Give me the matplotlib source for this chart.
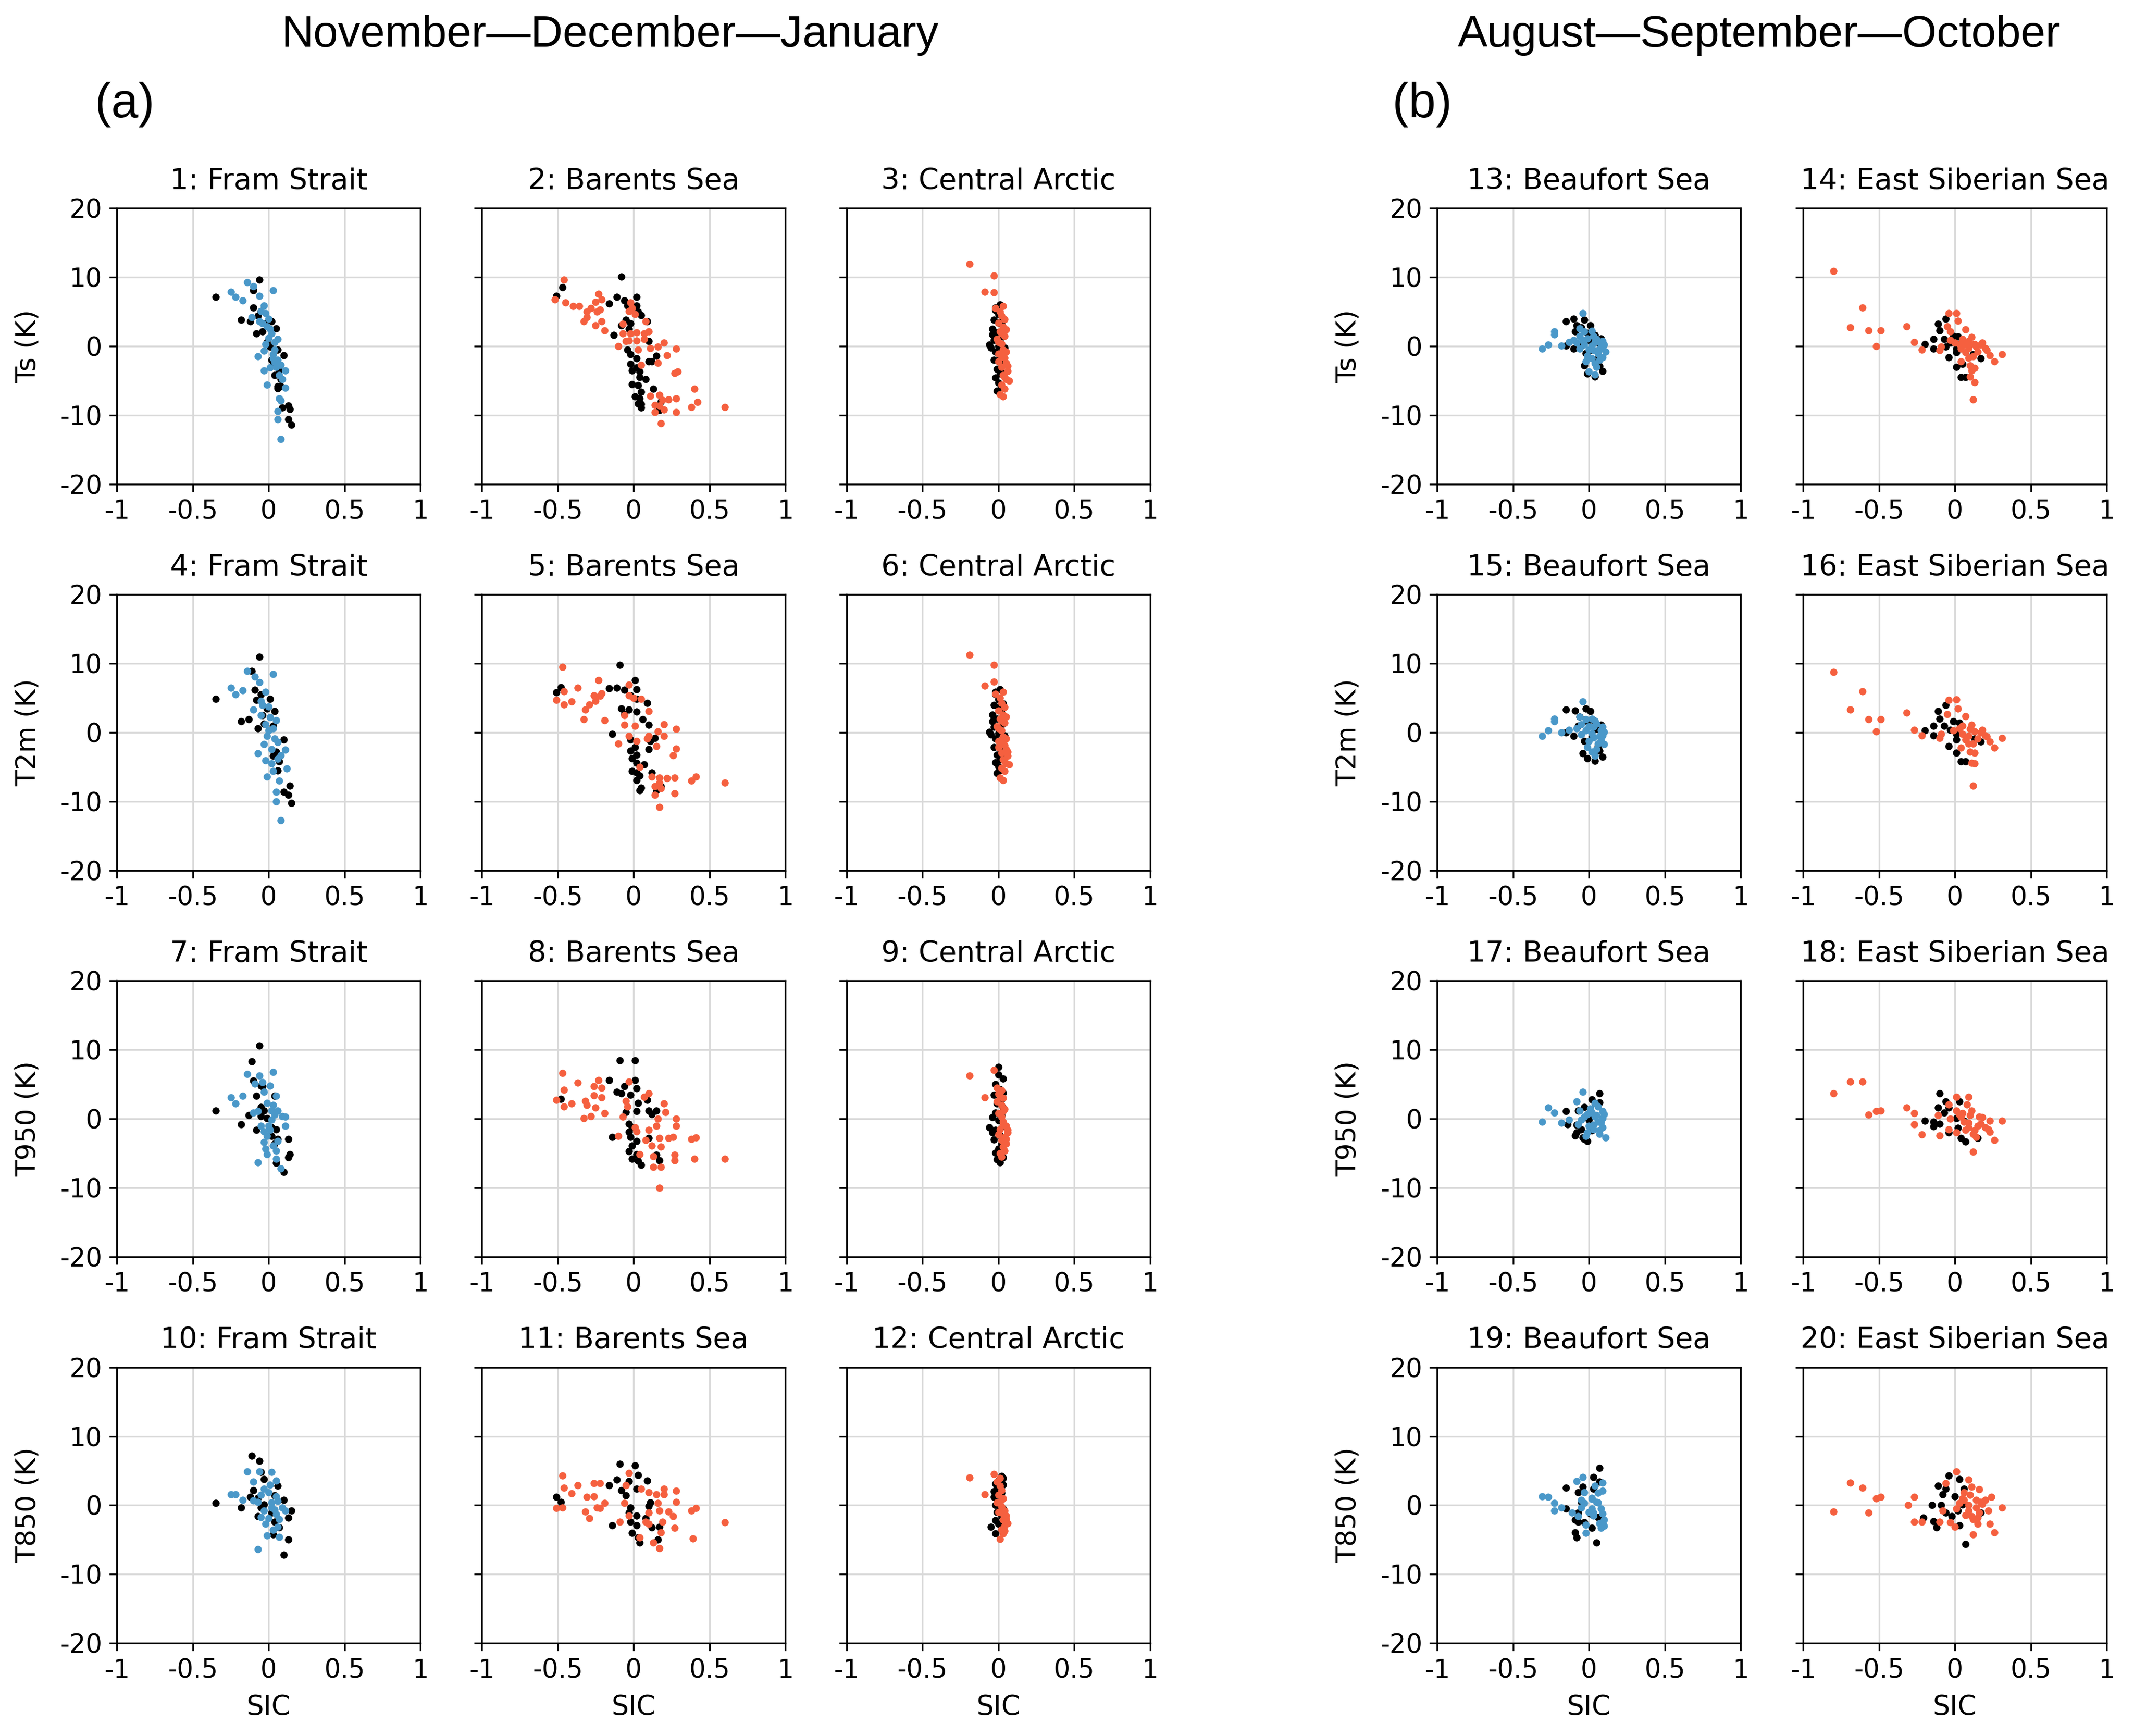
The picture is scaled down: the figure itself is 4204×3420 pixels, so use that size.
import matplotlib.pyplot as plt

plt.rcParams['font.family'] = ['DejaVu Sans']
plt.rcParams['axes.unicode_minus'] = False

# text
left_titles = ['Fram Strait', 'Barents Sea', 'Central Arctic']
right_titles = ['Beaufort Sea', 'East Siberian Sea']
ylabels = ['Ts (K)', 'T2m (K)', 'T950 (K)', 'T850 (K)']
xticks = [-1, -0.5, 0, 0.5, 1]
xtick_labels = ['-1', '-0.5', '0', '0.5', '1']
yticks = [20, 10, 0, -10, -20]
ytick_labels = ['20', '10', '0', '-10', '-20']

BLACK = 'black'
BLUE = '#4a98c9'
RED = '#f5603f'

# ---- (x = SIC anomaly, y = temperature anomaly) ----
# 1: Fram Strait, Ts
p01_black = [(-0.35, 7.1), (-0.06, 9.6), (-0.10, 8.1), (-0.18, 3.8), (-0.12, 3.6), (-0.10, 5.6),
             (-0.08, 1.8), (-0.04, 2.1), (-0.07, 4.4), (0.05, 2.6), (0.10, -1.3), (0.06, -5.8),
             (0.08, -4.8), (0.09, -8.9), (0.13, -8.6), (0.14, -9.1), (0.13, -10.6), (0.15, -11.4),
             (0.03, -2.7), (0.07, -3.5), (0.01, -0.1), (-0.01, 0.6), (0.02, -2.0), (0.04, -4.2),
             (-0.02, 3.3), (0.02, 3.6), (0.06, -6.1), (-0.05, 5.1), (0.06, -0.5), (0.08, -5.8)]
p01_blue = [(-0.14, 9.3), (-0.10, 8.7), (0.03, 8.1), (-0.25, 7.9), (-0.22, 7.1), (-0.17, 6.6),
            (-0.06, 7.3), (-0.03, 5.9), (-0.05, 5.1), (-0.11, 4.2), (-0.04, 3.3), (-0.01, 2.9),
            (0.0, 4.0), (0.02, 1.8), (-0.02, 0.3), (0.04, 0.6), (0.06, 1.0), (-0.07, -1.5),
            (-0.03, -0.7), (0.03, -1.2), (0.06, -2.0), (0.08, -2.7), (0.11, -3.5), (-0.03, -3.5),
            (0.01, -3.1), (0.07, -4.2), (-0.01, -5.6), (0.11, -6.0), (0.07, -7.6), (0.08, -7.9),
            (0.06, -9.4), (0.06, -10.6), (0.08, -13.5), (0.04, -0.5), (0.01, 2.5), (0.0, 1.2),
            (0.03, -1.8), (0.05, -3.0), (-0.02, 4.8), (0.09, -4.8), (0.04, -2.3), (-0.06, 3.6)]

# 2: Barents Sea, Ts
p02_black = [(-0.08, 10.1), (-0.47, 8.5), (-0.51, 7.3), (-0.16, 6.2), (-0.11, 7.1), (-0.06, 6.6),
             (0.02, 7.1), (-0.04, 5.9), (0.02, 5.9), (0.03, 5.0), (0.05, 4.5), (-0.05, 3.8),
             (-0.02, 3.3), (-0.08, 3.0), (0.09, 3.6), (-0.03, 2.5), (-0.13, 1.6), (0.10, 0.7),
             (-0.04, -0.5), (-0.02, -1.2), (0.15, -1.4), (0.02, -1.8), (0.10, -2.2), (0.12, -2.2),
             (-0.02, -2.6), (0.02, -3.1), (-0.01, -3.5), (0.04, -3.7), (0.04, -4.5), (0.08, -4.8),
             (-0.01, -5.5), (0.03, -5.7), (0.13, -6.2), (0.05, -6.6), (0.01, -7.3), (0.04, -7.6),
             (0.03, -8.3), (0.05, -8.4), (0.05, -8.9), (0.17, -9.3), (0.18, -8.0)]
p02_red = [(-0.46, 9.6), (-0.52, 6.8), (-0.45, 6.3), (-0.40, 5.8), (-0.36, 5.8), (-0.28, 5.5),
           (-0.31, 5.0), (-0.23, 7.6), (-0.21, 6.8), (-0.25, 6.4), (-0.24, 5.0), (-0.22, 5.3),
           (-0.31, 4.2), (-0.33, 3.6), (-0.21, 3.6), (-0.25, 3.0), (-0.19, 2.3), (-0.02, 6.3),
           (-0.01, 5.5), (-0.03, 5.1), (0.01, 4.6), (0.08, 3.6), (-0.07, 3.2), (0.10, 2.1),
           (-0.07, 1.8), (-0.02, 1.8), (0.02, 2.0), (0.07, 1.8), (-0.05, 0.7), (-0.03, 0.8),
           (-0.10, 0.0), (0.02, 0.8), (0.07, 1.0), (0.20, 0.5), (0.11, -0.3), (0.03, -0.5),
           (0.16, -0.1), (0.28, -0.4), (0.22, -1.3), (0.16, -2.4), (0.05, -2.7), (0.27, -3.9),
           (0.29, -3.7), (0.40, -6.2), (0.42, -8.1), (0.38, -8.8), (0.60, -8.8), (0.11, -7.2),
           (0.17, -7.1), (0.23, -7.7), (0.28, -7.6), (0.14, -8.5), (0.19, -7.8), (0.20, -9.2),
           (0.14, -9.6), (0.28, -9.6), (0.18, -11.2), (0.17, -8.6)]

# 3: Central Arctic, Ts
p03_black = [(0.01, 6.0), (-0.02, 5.2), (0.0, 4.6), (-0.03, 3.8), (0.02, 3.2), (-0.04, 2.5),
             (-0.01, 2.0), (0.03, 1.4), (-0.03, 0.9), (-0.06, 0.2), (0.0, 0.0), (0.04, -0.2),
             (-0.02, -0.8), (0.01, -1.4), (-0.03, -2.0), (0.02, -2.6), (-0.01, -3.3), (0.03, -3.9),
             (-0.02, -4.6), (0.0, -5.3), (0.02, -5.9), (-0.01, -6.5), (0.01, -1.0), (-0.04, 1.7),
             (0.03, 4.0), (0.0, 3.4), (-0.05, -0.2), (0.01, -4.0), (-0.02, 5.6)]
p03_red = [(-0.19, 11.9), (-0.03, 10.2), (-0.09, 7.9), (-0.03, 7.8), (-0.02, 5.5), (0.01, 5.0),
           (0.02, 4.4), (0.04, 3.9), (0.0, 3.4), (0.03, 2.8), (0.01, 2.1), (0.04, 1.5),
           (-0.01, 1.0), (0.02, 0.4), (0.03, -0.5), (0.0, -1.1), (0.04, -1.7), (0.05, -2.4),
           (0.02, -3.0), (0.06, -3.6), (0.03, -4.2), (0.05, -4.8), (0.07, -5.0), (0.02, -5.6),
           (0.04, -6.2), (0.01, -7.0), (0.03, -7.3), (0.0, -2.2), (0.02, 1.8), (0.05, -0.8),
           (0.03, 5.8), (0.05, 2.4), (0.02, -1.4), (0.06, -2.9), (0.04, -4.5), (0.0, 0.6)]

# 4: Fram Strait, T2m
p04_black = [(-0.06, 11.0), (-0.11, 8.9), (-0.35, 4.9), (-0.09, 6.2), (-0.05, 5.5), (-0.08, 4.7),
             (0.01, 4.9), (0.04, 3.1), (-0.18, 1.6), (-0.13, 1.9), (-0.03, 1.3), (-0.07, 0.6),
             (0.03, 1.0), (0.10, -1.0), (0.05, -2.8), (0.07, -4.2), (0.06, -5.5), (0.14, -7.7),
             (0.10, -8.6), (0.13, -9.0), (0.15, -10.2), (0.03, -3.4), (-0.01, 3.5), (-0.04, 2.5)]
p04_blue = [(-0.14, 8.9), (-0.09, 8.1), (-0.06, 7.3), (0.03, 8.5), (-0.25, 6.5), (-0.17, 6.1),
            (-0.22, 5.5), (-0.02, 5.9), (-0.05, 4.6), (-0.10, 3.3), (-0.05, 2.5), (0.0, 3.8),
            (0.05, 1.8), (0.03, 0.6), (-0.01, -0.5), (0.06, -1.4), (-0.03, -1.7), (0.11, -2.5),
            (-0.07, -3.0), (0.02, -2.4), (0.08, -3.3), (-0.02, -4.0), (0.02, -4.5), (0.12, -5.2),
            (-0.01, -6.4), (0.07, -7.0), (0.05, -8.6), (0.05, -10.0), (0.08, -12.7), (0.0, 0.3),
            (0.01, 2.2), (0.04, -0.9), (-0.02, 1.2), (0.06, -3.8), (0.03, -5.6), (-0.04, 4.0)]

# 5: Barents Sea, T2m
p05_black = [(-0.09, 9.8), (-0.48, 6.6), (-0.51, 5.8), (-0.16, 6.4), (-0.11, 6.5), (0.01, 7.6),
             (-0.06, 6.2), (0.02, 6.3), (-0.02, 5.4), (0.02, 4.9), (0.09, 4.3), (-0.08, 3.5),
             (-0.03, 3.3), (0.02, 3.0), (-0.06, 2.7), (0.10, 1.1), (0.06, 1.9), (-0.14, -0.2),
             (-0.02, -1.0), (0.14, -0.8), (0.11, -1.2), (0.01, -2.1), (0.10, -2.4), (-0.02, -2.6),
             (0.02, -3.2), (-0.01, -3.7), (0.02, -4.4), (0.07, -4.6), (-0.01, -5.6), (0.02, -5.8),
             (0.12, -5.8), (0.04, -6.2), (0.02, -6.9), (0.05, -8.0), (0.04, -8.4), (0.15, -8.4),
             (0.18, -7.8)]
p05_red = [(-0.47, 9.5), (-0.37, 6.5), (-0.46, 6.0), (-0.23, 7.6), (-0.51, 4.7), (-0.46, 4.1),
           (-0.41, 4.5), (-0.26, 5.4), (-0.22, 5.3), (-0.21, 5.7), (-0.25, 4.6), (-0.29, 4.1),
           (-0.32, 3.3), (-0.33, 1.9), (-0.19, 1.8), (-0.03, 6.9), (-0.03, 5.4), (0.0, 5.0),
           (0.05, 4.9), (0.10, 3.1), (-0.06, 2.5), (-0.06, 1.1), (0.01, 1.0), (0.20, 1.2),
           (0.28, 0.5), (0.16, 0.2), (0.10, -0.5), (0.20, -0.5), (-0.03, -0.5), (0.02, -1.2),
           (-0.10, -1.6), (0.15, -2.0), (0.09, -0.9), (0.28, -2.3), (0.26, -3.3), (0.04, -5.0),
           (0.12, -6.4), (0.17, -6.5), (0.22, -6.6), (0.27, -6.5), (0.38, -7.0), (0.41, -6.4),
           (0.60, -7.3), (0.14, -7.8), (0.18, -8.1), (0.17, -7.3), (0.14, -9.0), (0.27, -8.8),
           (0.17, -10.8)]

# 6: Central Arctic, T2m
p06_black = [(0.01, 6.3), (-0.02, 5.5), (0.0, 4.8), (-0.03, 4.0), (0.02, 3.3), (-0.04, 2.6),
             (-0.01, 2.0), (0.03, 1.3), (-0.03, 0.8), (-0.06, 0.1), (0.0, -0.1), (0.04, -0.4),
             (-0.02, -0.9), (0.01, -1.5), (-0.03, -2.1), (0.02, -2.6), (-0.01, -3.2), (0.03, -3.7),
             (-0.02, -4.3), (0.0, -4.9), (0.02, -5.4), (-0.01, -5.9), (-0.04, 1.6), (0.03, 4.2),
             (0.0, 3.6), (-0.05, -0.3), (0.01, -3.9), (-0.02, 5.9)]
p06_red = [(-0.19, 11.3), (-0.03, 9.8), (-0.09, 6.8), (-0.03, 7.4), (-0.02, 5.6), (0.01, 5.0),
           (0.02, 4.3), (0.04, 3.7), (0.0, 3.2), (0.03, 2.6), (0.01, 2.0), (0.04, 1.4),
           (-0.01, 0.9), (0.02, 0.3), (0.03, -0.6), (0.0, -1.2), (0.04, -1.8), (0.05, -2.4),
           (0.02, -2.9), (0.06, -3.4), (0.03, -3.9), (0.05, -4.5), (0.07, -4.6), (0.02, -5.1),
           (0.04, -5.6), (0.01, -6.5), (0.03, -6.9), (0.0, -2.1), (0.02, 1.7), (0.05, -0.9),
           (0.03, 5.9), (0.05, 2.3), (0.02, -1.5), (0.06, -2.8), (0.04, -4.2), (0.0, 0.6)]

# 7: Fram Strait, T950
p07_black = [(-0.06, 10.6), (-0.11, 8.3), (-0.35, 1.2), (-0.10, 5.5), (-0.05, 4.8), (-0.04, 4.7),
             (-0.08, 3.3), (0.04, 3.3), (-0.05, 1.7), (-0.03, 1.2), (-0.13, 0.5), (-0.05, 0.4),
             (-0.18, -0.8), (-0.08, -1.6), (0.05, -1.5), (0.02, -2.5), (0.06, -2.9), (0.13, -2.9),
             (0.04, -3.6), (0.14, -5.1), (0.13, -5.6), (0.05, -6.4), (0.10, -7.7), (-0.01, 0.1),
             (0.02, -1.2)]
p07_blue = [(-0.14, 6.5), (-0.06, 6.3), (0.03, 6.8), (-0.09, 5.1), (0.01, 4.8), (-0.25, 3.1),
            (-0.17, 3.3), (-0.22, 2.2), (-0.03, 3.9), (0.05, 3.3), (-0.01, 2.3), (-0.07, 1.1),
            (0.02, 1.2), (0.06, 1.2), (-0.10, 0.9), (0.09, 0.4), (0.11, 0.3), (-0.05, -1.0),
            (0.11, -1.0), (0.0, -1.0), (-0.03, -1.8), (-0.01, -2.5), (-0.03, -3.4), (0.06, -3.2),
            (-0.02, -4.3), (0.05, -4.6), (-0.01, -5.1), (0.05, -5.8), (-0.07, -6.3), (0.08, -7.2),
            (0.02, -0.1), (0.03, 2.0), (0.01, -1.6), (0.04, 0.6), (-0.04, 5.3), (0.03, -3.9)]

# 8: Barents Sea, T950
p08_black = [(-0.09, 8.5), (0.01, 8.5), (-0.16, 5.6), (0.01, 5.6), (-0.06, 4.7), (0.02, 4.4),
             (-0.11, 3.9), (-0.08, 3.7), (-0.02, 3.5), (0.09, 2.7), (-0.48, 2.9), (0.03, 2.3),
             (-0.05, 1.0), (0.02, 1.1), (0.10, 1.2), (0.12, 0.7), (0.15, 1.2), (-0.03, -0.7),
             (-0.03, -1.9), (-0.01, -1.2), (-0.14, -2.6), (-0.02, -2.6), (0.10, -2.8), (0.02, -3.2),
             (-0.01, -3.9), (-0.03, -4.7), (0.02, -5.1), (0.15, -5.2), (0.17, -6.0), (0.03, -6.1),
             (0.05, -6.7), (-0.01, -5.8)]
p08_red = [(-0.47, 6.6), (-0.37, 5.2), (-0.46, 4.2), (-0.23, 5.6), (-0.03, 5.4), (-0.26, 4.7),
           (-0.21, 4.5), (-0.51, 2.7), (-0.41, 2.2), (-0.46, 1.8), (-0.26, 3.4), (-0.21, 3.1),
           (-0.32, 2.6), (-0.31, 2.0), (-0.25, 1.6), (-0.33, 0.1), (-0.28, 0.4), (-0.19, 0.8),
           (-0.05, 2.6), (-0.04, 1.8), (0.10, 3.7), (0.07, 3.2), (0.20, 2.2), (0.21, 1.0),
           (-0.07, 0.3), (0.16, 0.0), (0.28, 0.0), (0.15, -1.0), (0.28, -1.0), (0.01, -1.2),
           (0.02, -1.8), (0.10, -1.6), (-0.10, -2.5), (0.17, -2.8), (0.23, -2.8), (0.26, -2.6),
           (0.38, -2.9), (0.41, -2.7), (0.08, -3.1), (0.12, -3.9), (0.18, -4.0), (0.13, -5.4),
           (0.27, -5.2), (0.27, -6.0), (0.40, -5.8), (0.60, -5.8), (0.04, -5.1), (0.13, -7.0),
           (0.18, -7.0), (0.17, -10.0)]

# 9: Central Arctic, T950
p09_black = [(0.0, 7.5), (0.0, 6.4), (0.03, 5.8), (-0.02, 5.0), (0.01, 4.3), (-0.03, 3.5),
             (0.02, 2.8), (-0.01, 2.2), (0.03, 1.6), (-0.02, 0.9), (-0.04, 0.2), (0.0, -0.2),
             (-0.06, -1.2), (-0.02, -1.6), (0.03, -1.0), (0.01, -2.4), (-0.03, -3.0), (0.02, -3.6),
             (0.0, -4.3), (-0.02, -4.9), (0.01, -5.4), (0.03, -5.6), (0.01, -6.3), (-0.01, -5.9),
             (0.02, 0.5), (-0.04, -2.0), (0.03, 3.8)]
p09_red = [(-0.19, 6.3), (-0.03, 7.1), (-0.09, 3.1), (-0.01, 4.5), (0.02, 4.1), (0.0, 3.6),
           (0.03, 3.0), (-0.01, 2.5), (0.02, 2.0), (0.04, 1.4), (0.0, 0.8), (0.02, 0.3),
           (0.03, -0.4), (0.05, -1.0), (0.01, -1.5), (0.06, -2.0), (0.04, -2.6), (0.02, -3.1),
           (0.05, -3.6), (0.03, -4.0), (0.04, -4.6), (0.01, -5.0), (0.02, -5.5), (0.0, -2.3),
           (0.03, 1.1), (0.05, -2.9), (0.06, -1.6), (0.01, 3.3), (0.03, -0.9)]

# 10: Fram Strait, T850
p10_black = [(-0.11, 7.2), (-0.06, 6.4), (-0.35, 0.3), (-0.18, -0.3), (-0.03, 3.8), (-0.05, 4.8),
             (0.06, 2.8), (-0.10, 2.2), (-0.12, 1.2), (-0.07, 1.1), (0.04, 1.4), (0.10, 0.8),
             (-0.05, -0.3), (-0.07, -1.6), (0.15, -0.8), (0.13, -1.8), (0.04, -2.4), (0.07, -3.2),
             (0.03, -4.2), (0.13, -5.0), (0.10, -7.2), (-0.03, 0.1), (0.02, -1.1)]
p10_blue = [(-0.14, 4.9), (-0.06, 4.9), (0.02, 4.8), (-0.10, 3.4), (0.05, 3.6), (-0.25, 1.6),
            (-0.22, 1.6), (-0.17, 0.8), (-0.10, 0.7), (-0.03, 2.4), (0.0, 1.9), (-0.05, 1.5),
            (0.05, 1.3), (-0.07, 0.5), (0.02, 0.4), (0.09, -0.3), (0.11, -0.8), (-0.03, -0.8),
            (0.05, -1.3), (-0.05, -1.7), (0.07, -2.0), (-0.02, -2.7), (0.06, -3.1), (-0.01, -4.4),
            (0.07, -4.6), (-0.07, -6.4), (0.02, -0.3), (0.01, 3.0), (0.04, -0.6), (0.0, -1.9),
            (0.03, -3.6), (0.06, 0.6)]

# 11: Barents Sea, T850
p11_black = [(-0.09, 6.0), (0.01, 5.8), (0.03, 4.4), (0.09, 3.6), (-0.11, 3.7), (-0.16, 2.9),
             (-0.03, 3.5), (-0.08, 2.2), (0.02, 2.4), (-0.05, 1.4), (-0.51, 1.2), (-0.48, 0.5),
             (0.11, 0.4), (0.10, -0.1), (-0.02, -0.3), (-0.03, -1.1), (0.02, -1.5), (-0.02, -2.4),
             (0.08, -1.9), (-0.14, -2.9), (0.02, -2.9), (0.12, -3.2), (0.17, -3.1), (-0.01, -4.0),
             (0.03, -4.7), (0.16, -5.0), (0.04, -5.4)]
p11_red = [(-0.47, 4.3), (-0.37, 2.9), (-0.46, 2.5), (-0.41, 1.7), (-0.26, 3.2), (-0.22, 3.2),
           (-0.03, 4.7), (-0.05, 2.9), (-0.31, 1.2), (-0.26, 1.3), (-0.51, -0.4), (-0.47, -0.3),
           (-0.19, 0.3), (-0.24, -0.3), (-0.32, -0.9), (-0.29, -1.9), (-0.22, -0.4), (-0.06, 0.3),
           (0.05, 2.4), (0.10, 1.9), (0.15, 1.6), (0.20, 2.4), (0.28, 2.1), (0.20, 1.6),
           (0.28, 0.5), (0.16, 0.3), (0.38, -0.8), (0.41, -0.4), (0.10, -1.1), (0.17, -0.8),
           (0.23, -0.9), (0.26, -1.6), (-0.03, -1.5), (-0.09, -2.4), (0.08, -2.4), (0.19, -2.4),
           (0.10, -2.7), (0.27, -3.3), (0.18, -3.9), (0.60, -2.5), (0.39, -4.8), (0.13, -5.4),
           (0.17, -6.2), (0.04, -4.7)]

# 12: Central Arctic, T850
p12_black = [(0.02, 4.2), (0.0, 3.6), (0.03, 3.0), (-0.01, 2.4), (0.02, 1.8), (-0.03, 1.2),
             (0.01, 0.6), (-0.02, 0.0), (0.03, -0.5), (-0.01, -1.0), (0.02, -1.6), (-0.02, -2.2),
             (0.0, -2.7), (-0.05, -3.1), (-0.02, -4.1), (0.02, -3.5), (0.01, -0.2), (-0.03, 2.0),
             (0.03, 3.9), (-0.02, 3.1)]
p12_red = [(-0.19, 4.0), (-0.09, 1.6), (-0.03, 4.5), (-0.01, 3.4), (0.01, 2.8), (0.02, 2.2),
           (0.0, 1.5), (0.03, 1.0), (-0.01, 0.4), (0.02, -0.2), (0.04, -0.8), (0.05, -1.5),
           (0.03, -2.1), (0.06, -2.6), (0.04, -3.0), (0.02, -3.5), (0.03, -4.1), (0.01, -4.9),
           (0.0, -1.0), (0.02, 0.8), (0.05, -2.0), (0.04, -3.7), (0.01, 3.9), (0.03, -1.2)]

# 13: Beaufort Sea, Ts
p13_black = [(-0.15, 3.6), (-0.10, 4.0), (-0.08, 3.0), (-0.03, 3.8), (0.01, 3.0), (-0.09, 2.1),
             (0.04, 1.6), (0.08, 1.1), (-0.15, 0.1), (-0.10, -0.4), (-0.04, 0.2), (-0.02, -1.0),
             (0.06, -0.9), (0.04, -2.0), (-0.03, -2.8), (0.07, -2.9), (0.09, -3.6), (0.04, -4.4),
             (-0.01, -4.0), (0.01, 0.7), (-0.05, 2.7), (0.02, -0.6), (0.05, -2.4), (-0.01, 1.9),
             (0.07, 0.4)]
p13_blue = [(-0.04, 4.8), (-0.23, 2.1), (-0.23, 1.7), (-0.27, 0.2), (-0.31, -0.4), (-0.18, 0.1),
            (-0.13, 0.6), (-0.10, 0.9), (-0.06, 2.6), (-0.03, 2.1), (0.02, 2.2), (-0.06, 1.5),
            (-0.01, 1.1), (0.09, 0.7), (0.10, 0.2), (0.07, -0.4), (-0.06, -0.4), (0.03, -0.6),
            (-0.01, -1.4), (0.09, -1.6), (0.11, -0.8), (-0.02, -2.2), (0.04, -2.5), (0.0, -3.7),
            (0.04, -4.1), (0.02, 0.1), (-0.03, 0.2), (0.05, 1.0), (0.08, 0.3), (0.0, -0.5),
            (0.06, -1.0), (0.03, 1.5), (-0.04, 0.9), (0.09, -0.3), (0.02, -1.8), (0.07, -2.0),
            (0.05, -3.0), (-0.08, 0.5), (0.04, 0.6)]

# 14: East Siberian Sea, Ts
p14_black = [(-0.11, 3.2), (-0.06, 4.0), (-0.10, 2.3), (-0.14, 1.0), (-0.20, 0.3), (-0.14, -0.4),
             (-0.07, 1.0), (-0.01, 1.5), (0.02, 1.4), (-0.04, -1.6), (0.01, -0.9), (0.01, -3.0),
             (0.12, -1.2), (0.17, -1.8), (0.05, -2.6), (0.04, -4.5), (0.07, -4.5), (-0.03, 0.5),
             (-0.06, -0.1), (0.01, -0.4)]
p14_red = [(-0.80, 10.9), (-0.61, 5.6), (-0.69, 2.7), (-0.57, 2.3), (-0.49, 2.3), (-0.52, 0.0),
           (-0.32, 2.9), (-0.27, 0.6), (-0.22, -0.5), (-0.04, 4.8), (0.01, 4.8), (0.02, 3.7),
           (-0.05, 2.9), (0.07, 2.4), (-0.03, 2.1), (0.11, 1.3), (0.09, 0.7), (0.13, 0.3),
           (0.17, 0.2), (-0.09, -0.1), (-0.10, -0.6), (0.04, -0.4), (0.14, -0.1), (0.21, -0.6),
           (0.23, -1.3), (0.31, -1.2), (0.26, -2.2), (0.09, -1.7), (0.04, -2.2), (0.10, -2.8),
           (0.13, -3.2), (0.11, -3.5), (0.10, -4.4), (0.13, -5.2), (0.12, -7.7), (0.0, 0.5),
           (-0.03, 0.9), (0.06, 0.2), (0.05, 1.0), (0.09, -0.3), (0.15, -0.8), (0.18, 0.5),
           (0.12, -1.5), (0.07, -0.9), (0.20, -0.3), (0.03, 0.3), (0.10, 0.4)]

# 15: Beaufort Sea, T2m
p15_black = [(-0.15, 3.3), (-0.09, 3.2), (-0.02, 3.5), (0.01, 3.1), (0.03, 1.8), (0.08, 1.1),
             (-0.15, 0.0), (-0.10, -0.5), (-0.03, -1.2), (0.06, -2.0), (-0.04, -3.0), (0.09, -3.5),
             (0.04, -4.1), (-0.01, -3.7), (-0.06, 2.3), (0.05, 0.5), (-0.07, 1.0), (0.02, -0.6),
             (0.07, -2.6), (-0.01, 1.6)]
p15_blue = [(-0.04, 4.5), (-0.23, 2.0), (-0.23, 1.6), (-0.27, 0.3), (-0.31, -0.5), (-0.18, 0.0),
            (-0.13, 0.4), (-0.06, 2.3), (-0.02, 1.9), (0.02, 2.0), (-0.05, 1.2), (0.0, 0.9),
            (0.09, 0.8), (0.10, 0.1), (0.07, -0.5), (-0.05, -0.3), (0.03, -0.7), (-0.01, -2.1),
            (0.04, -3.4), (0.10, -1.7), (0.08, -1.1), (0.02, -0.1), (-0.02, 0.3), (0.05, -2.4),
            (0.05, 1.3), (0.08, 0.3), (0.0, -1.2), (0.06, -1.6), (0.03, 0.8), (-0.08, 0.6),
            (0.09, -0.4), (0.02, -2.8), (0.04, 1.7)]

# 16: East Siberian Sea, T2m
p16_black = [(-0.11, 3.1), (-0.06, 4.0), (-0.10, 2.0), (-0.14, 1.0), (-0.20, 0.3), (-0.14, -0.4),
             (-0.07, 1.0), (-0.01, 1.6), (0.03, 1.4), (-0.04, -2.0), (0.01, -1.0), (0.01, -2.9),
             (0.13, -0.9), (0.17, -1.3), (0.04, -4.2), (0.07, -4.2), (-0.03, 0.4), (0.01, -0.2)]
p16_red = [(-0.80, 8.8), (-0.61, 6.0), (-0.69, 3.3), (-0.57, 1.9), (-0.49, 1.9), (-0.52, 0.2),
           (-0.32, 2.9), (-0.27, 0.4), (-0.22, -0.4), (-0.04, 4.7), (0.01, 4.8), (0.02, 3.5),
           (0.07, 2.4), (-0.05, 2.7), (0.11, 1.1), (0.13, 0.2), (0.17, 0.0), (0.21, -0.6),
           (0.23, -1.3), (0.31, -0.8), (0.26, -2.2), (0.09, -1.6), (0.04, -2.2), (0.10, -2.8),
           (0.13, -2.9), (0.11, -4.4), (0.13, -4.5), (0.12, -7.7), (-0.10, -0.8), (0.05, -0.2),
           (-0.01, 0.3), (-0.09, -0.2), (0.05, 1.0), (0.09, -0.5), (0.15, -0.9), (0.18, 0.4),
           (0.12, -1.6), (0.07, -1.0), (0.20, -0.4), (0.03, 0.6), (0.10, 0.5)]

# 17: Beaufort Sea, T950
p17_black = [(0.07, 3.7), (0.02, 2.8), (0.04, 2.3), (0.07, 2.4), (-0.15, 1.1), (-0.03, 1.7),
             (-0.07, 1.2), (-0.14, -0.8), (-0.08, -0.9), (-0.08, -2.0), (-0.09, -2.4), (-0.04, -2.7),
             (-0.01, -3.2), (-0.03, -2.9), (0.02, -1.7), (0.0, -0.1), (-0.05, -1.5), (0.03, 0.4)]
p17_blue = [(-0.04, 3.9), (-0.27, 1.6), (-0.23, 0.9), (-0.31, -0.4), (-0.18, -0.6), (-0.13, -0.1),
            (-0.08, 2.5), (-0.06, 1.2), (-0.01, 0.7), (0.09, 1.1), (0.10, 0.7), (0.06, -0.4),
            (-0.05, -0.1), (0.03, -0.9), (0.07, -1.7), (-0.01, -2.0), (0.11, -2.7), (0.04, 0.3),
            (0.01, 1.5), (0.09, 0.1), (0.05, 0.5), (0.08, -0.5), (0.0, -1.0), (0.06, 1.8),
            (-0.03, 0.3), (0.03, -1.5), (0.09, -1.2), (0.02, 0.9), (-0.07, -0.8), (0.07, -2.2),
            (0.04, 2.3), (-0.02, -2.5)]

# 18: East Siberian Sea, T950
p18_black = [(-0.10, 3.7), (-0.06, 2.5), (-0.11, 1.6), (-0.04, 1.6), (0.03, 2.5), (-0.20, -0.3),
             (-0.14, -0.4), (-0.14, -1.1), (-0.10, -0.7), (-0.04, -2.0), (0.04, -2.8), (0.07, -3.3),
             (0.15, -2.8), (0.01, 0.1), (0.06, -0.3), (-0.07, 0.9), (0.02, -1.3)]
p18_red = [(-0.80, 3.7), (-0.69, 5.4), (-0.61, 5.4), (-0.57, 0.6), (-0.52, 1.1), (-0.49, 1.2),
           (-0.32, 1.6), (-0.27, 0.8), (-0.27, -0.8), (-0.22, -2.3), (-0.10, -2.4), (-0.04, -1.5),
           (0.01, 3.2), (0.09, 3.2), (0.08, 2.1), (0.11, 1.2), (0.04, 0.3), (0.16, 0.3),
           (0.23, -0.3), (0.31, -0.3), (0.17, -0.7), (0.22, -1.5), (0.23, -1.9), (0.26, -3.1),
           (0.12, -4.8), (0.09, -1.2), (0.01, -2.0), (0.13, -1.7), (-0.11, 0.5), (-0.03, 0.0),
           (0.06, -0.4), (-0.04, 2.1), (0.01, 1.2), (0.05, 0.8), (0.09, -0.6), (0.15, -1.0),
           (0.18, 0.2), (0.12, -2.2), (0.07, -1.6), (0.20, -1.2), (0.03, 0.6), (0.10, 0.5),
           (0.14, -2.6)]

# 19: Beaufort Sea, T850
p19_black = [(0.07, 5.4), (0.03, 4.1), (0.07, 3.4), (-0.15, 2.5), (-0.04, 2.7), (-0.07, 1.9),
             (0.03, 2.4), (-0.15, -0.5), (-0.07, -1.1), (-0.09, -2.1), (-0.07, -2.4), (-0.03, -2.5),
             (0.06, -1.7), (0.02, -3.3), (-0.09, -3.9), (-0.08, -4.7), (0.05, -5.4), (0.09, -2.4),
             (-0.05, 0.5), (0.01, -1.2)]
p19_blue = [(-0.04, 4.1), (-0.08, 3.5), (0.09, 3.3), (0.09, 2.1), (-0.31, 1.3), (-0.27, 1.2),
            (-0.23, 0.3), (-0.18, -0.3), (-0.23, -0.8), (-0.11, -1.1), (-0.05, 0.8), (0.02, 1.1),
            (0.06, 0.4), (-0.05, -0.3), (0.03, -1.1), (0.10, -2.1), (0.08, -3.3), (-0.02, -4.0),
            (0.02, -0.5), (-0.03, 1.9), (0.05, 0.5), (0.08, -0.5), (0.0, -1.0), (0.06, 1.8),
            (-0.03, 0.3), (0.03, -1.5), (0.09, -1.2), (0.02, 0.9), (-0.07, -1.6), (0.07, -2.6),
            (0.04, 2.8), (-0.02, -2.8), (0.10, -3.0)]

# 20: East Siberian Sea, T850
p20_black = [(-0.04, 4.3), (0.03, 3.8), (-0.11, 2.8), (-0.06, 2.4), (0.06, 2.4), (-0.15, 0.0),
             (-0.09, 0.0), (-0.06, -1.1), (-0.21, -1.8), (-0.14, -2.3), (-0.12, -3.2), (-0.02, -1.6),
             (0.03, -2.9), (0.17, -1.1), (0.07, -5.6), (0.0, 1.3), (0.05, 0.1), (-0.08, 1.6),
             (0.02, -0.8)]
p20_red = [(-0.80, -0.9), (-0.69, 3.3), (-0.61, 2.5), (-0.57, -1.1), (-0.52, 1.0), (-0.49, 1.2),
           (-0.31, 0.0), (-0.27, 1.2), (-0.27, -2.4), (-0.22, -2.4), (-0.10, -2.4), (0.01, 4.9),
           (0.09, 3.7), (-0.06, 3.2), (0.16, 2.3), (0.11, 2.7), (0.24, 1.2), (0.17, 0.5),
           (0.31, -0.3), (0.22, -0.8), (0.16, -1.1), (0.23, -2.7), (0.26, -3.9), (0.12, -4.2),
           (0.15, -2.7), (0.0, -3.1), (-0.03, -2.5), (0.06, 0.8), (0.09, 0.0), (0.01, -0.5),
           (0.11, -1.6), (-0.08, -0.8), (0.06, 1.9), (0.14, 0.8), (0.05, 1.0), (0.09, -0.8),
           (0.15, -1.8), (0.18, 0.2), (0.12, -2.0), (0.07, -1.4), (0.20, 0.8), (0.03, 0.3),
           (0.10, 1.5), (0.14, -0.3)]

left_panels = [(p01_black, p01_blue), (p02_black, p02_red), (p03_black, p03_red),
               (p04_black, p04_blue), (p05_black, p05_red), (p06_black, p06_red),
               (p07_black, p07_blue), (p08_black, p08_red), (p09_black, p09_red),
               (p10_black, p10_blue), (p11_black, p11_red), (p12_black, p12_red)]
right_panels = [(p13_black, p13_blue), (p14_black, p14_red),
                (p15_black, p15_blue), (p16_black, p16_red),
                (p17_black, p17_blue), (p18_black, p18_red),
                (p19_black, p19_blue), (p20_black, p20_red)]

fig = plt.figure(figsize=(4204 / 300, 3420 / 300), dpi=300)

col_left = [0.0548, 0.2258, 0.3967, 0.6735, 0.8450]
row_bottom = [0.7211, 0.4985, 0.2760, 0.0534]
ax_w, ax_h = 0.1422, 0.1590
TICK_FS = 12.2
LABEL_FS = 12.8
TITLE_FS = 13.7


def draw_panel(ax, black, colored, color, title, ylabel, bottom):
    ax.grid(True, color='#d9d9d9', linewidth=0.8, zorder=0)
    ax.set_axisbelow(True)
    bx, by = zip(*black)
    cx, cy = zip(*colored)
    ax.scatter(bx, by, s=12, c=BLACK, linewidths=0, zorder=2)
    ax.scatter(cx, cy, s=12, c=color, linewidths=0, zorder=3)
    ax.set_xlim(-1, 1)
    ax.set_ylim(-20, 20)
    ax.set_xticks(xticks)
    ax.set_xticklabels(xtick_labels, fontsize=TICK_FS)
    ax.set_yticks(yticks)
    if ylabel:
        ax.set_yticklabels(ytick_labels, fontsize=TICK_FS)
        ax.set_ylabel(ylabel, fontsize=LABEL_FS, labelpad=9)
    else:
        ax.set_yticklabels([])
    if bottom:
        ax.set_xlabel('SIC', fontsize=LABEL_FS, labelpad=5)
    ax.set_title(title, fontsize=TITLE_FS, pad=9)


n = 1
for r in range(4):
    for c in range(3):
        ax = fig.add_axes([col_left[c], row_bottom[r], ax_w, ax_h])
        black, colored = left_panels[r * 3 + c]
        color = BLUE if c == 0 else RED
        title = f'{n}: {left_titles[c]}'
        draw_panel(ax, black, colored, color, title, ylabels[r] if c == 0 else None, r == 3)
        n += 1

for r in range(4):
    for c in range(2):
        ax = fig.add_axes([col_left[3 + c], row_bottom[r], ax_w, ax_h])
        black, colored = right_panels[r * 2 + c]
        color = BLUE if c == 0 else RED
        title = f'{13 + r * 2 + c}: {right_titles[c]}'
        draw_panel(ax, black, colored, color, title, ylabels[r] if c == 0 else None, r == 3)

head = dict(fontsize=21, family=['Liberation Sans', 'DejaVu Sans'], ha='center', va='center')
fig.text(0.286, 0.9796, 'November\u2014December\u2014January', **head)
fig.text(0.8243, 0.9796, 'August\u2014September\u2014October', **head)
lab = dict(fontsize=23, family=['Liberation Sans', 'DejaVu Sans'], ha='left', va='center')
fig.text(0.0446, 0.9397, '(a)', **lab)
fig.text(0.6524, 0.9397, '(b)', **lab)

plt.savefig('out.png', dpi=300)
plt.close()
